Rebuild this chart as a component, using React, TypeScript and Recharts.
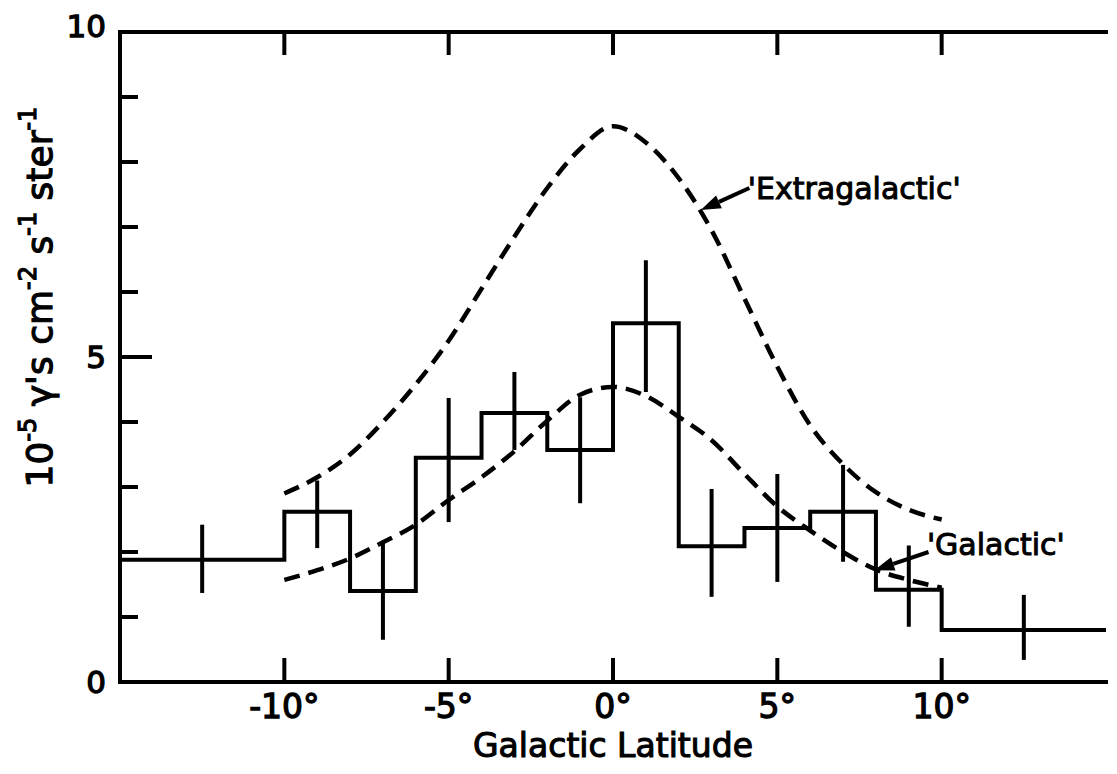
import { ComposedChart, Line, Scatter, ErrorBar, XAxis, YAxis, ReferenceLine, ReferenceDot } from 'recharts';

// histogram bins (galactic latitude, degrees) and measured flux
const binEdges = [-15, -10, -8, -6, -4, -2, 0, 2, 4, 6, 8, 10, 15];
const binFlux = [1.88, 2.62, 1.4, 3.45, 4.14, 3.57, 5.52, 2.09, 2.37, 2.62, 1.42, 0.8];
const binCentres = [-12.5, -9, -7, -5, -3, -1, 1, 3, 5, 7, 9, 12.5];
const fluxErrLow = [0.51, 0.56, 0.75, 0.99, 0.57, 0.82, 1.06, 0.78, 0.83, 0.77, 0.57, 0.46];
const fluxErrHigh = [0.54, 0.48, 0.75, 0.92, 0.63, 0.81, 0.97, 0.88, 0.83, 0.72, 0.68, 0.54];

// model curves
const curveLat = [-10, -9, -8, -7, -6, -5, -4, -3, -2, -1, 0, 1, 2, 3, 4, 5, 6, 7, 8, 9, 10];
const extragalactic = [2.9, 3.15, 3.5, 4.0, 4.58, 5.25, 6.05, 6.85, 7.6, 8.2, 8.55, 8.3, 7.75, 6.95, 5.9, 4.85, 3.95, 3.35, 2.92, 2.65, 2.5];
const galactic = [1.57, 1.72, 1.9, 2.15, 2.42, 2.8, 3.15, 3.55, 4.02, 4.42, 4.54, 4.4, 4.08, 3.72, 3.2, 2.7, 2.33, 2.0, 1.73, 1.57, 1.45];

const xTicks = [-10, -5, 0, 5, 10];
const xTickLabels = ['-10°', '-5°', '0°', '5°', '10°'];
const yTicks = [0, 1, 2, 3, 4, 5, 6, 7, 8, 9, 10];
const yTickLabels = ['0', '', '', '', '', '5', '', '', '', '', '10'];

const histData = binEdges.map((x, i) => ({ x, y: binFlux[Math.min(i, binFlux.length - 1)] }));
const errData = binCentres.map((x, i) => ({ x, y: binFlux[i], err: [fluxErrLow[i], fluxErrHigh[i]] }));
const extraData = curveLat.map((x, i) => ({ x, y: extragalactic[i] }));
const galData = curveLat.map((x, i) => ({ x, y: galactic[i] }));

const INK = '#000';
const FONT = "'DejaVu Sans', sans-serif";

const LeftTick = (props: any) => {
  const { x, y, payload } = props;
  const idx = yTicks.indexOf(payload.value);
  const len = payload.value % 5 === 0 ? 32 : 18;
  return (
    <g>
      <line x1={x} x2={x + len} y1={y} y2={y} stroke={INK} strokeWidth={4} />
      {yTickLabels[idx] && (
        <text x={x - 14} y={payload.value === 10 ? y - 6 : y} dy="0.36em" textAnchor="end" fontSize={31} fontFamily={FONT} stroke={INK} strokeWidth={1.3} fill={INK}>
          {yTickLabels[idx]}
        </text>
      )}
    </g>
  );
};

const RightTick = (props: any) => {
  const { x, y, payload } = props;
  const len = payload.value % 5 === 0 ? 30 : 16;
  return <line x1={x} x2={x - len} y1={y} y2={y} stroke={INK} strokeWidth={4} />;
};

const BottomTick = (props: any) => {
  const { x, y, payload } = props;
  const idx = xTicks.indexOf(payload.value);
  return (
    <g>
      <line x1={x} x2={x} y1={y} y2={y - 24} stroke={INK} strokeWidth={4} />
      <text x={x} y={y + 36} textAnchor="middle" fontSize={33} fontFamily={FONT} stroke={INK} strokeWidth={1.3} fill={INK}>
        {xTickLabels[idx]}
      </text>
    </g>
  );
};

const TopTick = (props: any) => {
  const { x, y } = props;
  return <line x1={x} x2={x} y1={y} y2={y + 23} stroke={INK} strokeWidth={4} />;
};

const XTitle = (props: any) => {
  const { viewBox } = props;
  return (
    <text x={viewBox.x + viewBox.width / 2} y={viewBox.y + 75} textAnchor="middle" fontSize={33} fontFamily={FONT} stroke={INK} strokeWidth={1.1} fill={INK}>
      Galactic Latitude
    </text>
  );
};

const YTitle = (props: any) => {
  const { viewBox } = props;
  const cx = viewBox.x + 44;
  const cy = viewBox.y + viewBox.height / 2 - 60;
  const sup = { fontSize: 24, dy: -16 };
  return (
    <text x={cx} y={cy} transform={`rotate(-90 ${cx} ${cy})`} textAnchor="middle" fontSize={36} fontFamily={FONT} stroke={INK} strokeWidth={1.2} fill={INK}>
      <tspan>10</tspan>
      <tspan fontSize={sup.fontSize} dy={sup.dy}>-5</tspan>
      <tspan dy={16}> γ's cm</tspan>
      <tspan fontSize={sup.fontSize} dy={sup.dy}>-2</tspan>
      <tspan dy={16}> s</tspan>
      <tspan fontSize={sup.fontSize} dy={sup.dy}>-1</tspan>
      <tspan dy={16}> ster</tspan>
      <tspan fontSize={sup.fontSize} dy={sup.dy}>-1</tspan>
    </text>
  );
};

const Arrow = (props: any) => {
  const { x1, y1, x2, y2 } = props;
  const a = Math.atan2(y2 - y1, x2 - x1);
  const L = 20;
  const W = 7;
  const bx = x2 - L * Math.cos(a);
  const by = y2 - L * Math.sin(a);
  const px = -Math.sin(a) * W;
  const py = Math.cos(a) * W;
  return (
    <g>
      <line x1={x1} y1={y1} x2={bx} y2={by} stroke={INK} strokeWidth={4} />
      <polygon points={`${x2},${y2} ${bx + px},${by + py} ${bx - px},${by - py}`} fill={INK} />
    </g>
  );
};

const note = (text: string) => (props: any) => (
  <text x={props.cx} y={props.cy} fontSize={30} fontFamily={FONT} stroke={INK} strokeWidth={1} fill={INK}>
    {text}
  </text>
);

const axisLine = { stroke: INK, strokeWidth: 4, strokeLinecap: 'square' as const };

export default function App() {
  return (
    <div style={{ fontFamily: FONT }}>
      <ComposedChart width={1100} height={760} margin={{ top: 23, right: 2, bottom: 0, left: 0 }}>
        <XAxis
          xAxisId="b"
          type="number"
          dataKey="x"
          domain={[-15, 15]}
          ticks={xTicks}
          tickSize={0}
          tickMargin={0}
          tickLine={false}
          axisLine={axisLine}
          tick={<BottomTick />}
          height={86}
          allowDataOverflow
          label={<XTitle />}
        />
        <XAxis
          xAxisId="t"
          orientation="top"
          type="number"
          dataKey="x"
          domain={[-15, 15]}
          ticks={xTicks}
          tickSize={0}
          tickMargin={0}
          tickLine={false}
          axisLine={axisLine}
          tick={<TopTick />}
          height={1}
          allowDataOverflow
        />
        <YAxis
          yAxisId="l"
          type="number"
          domain={[0, 10]}
          ticks={yTicks}
          tickSize={0}
          tickMargin={0}
          tickLine={false}
          axisLine={axisLine}
          tick={<LeftTick />}
          width={112}
          allowDataOverflow
          label={<YTitle />}
        />
        <YAxis
          yAxisId="r"
          orientation="right"
          type="number"
          domain={[0, 10]}
          ticks={yTicks}
          tickSize={0}
          tickMargin={0}
          tickLine={false}
          axisLine={axisLine}
          tick={<RightTick />}
          width={0}
          allowDataOverflow
        />
        <Line xAxisId="b" yAxisId="l" data={histData} dataKey="y" type="stepAfter" stroke={INK} strokeWidth={4} dot={false} isAnimationActive={false} />
        <Line xAxisId="b" yAxisId="l" data={extraData} dataKey="y" type="monotone" stroke={INK} strokeWidth={4.5} strokeDasharray="16 9" dot={false} isAnimationActive={false} />
        <Line xAxisId="b" yAxisId="l" data={galData} dataKey="y" type="monotone" stroke={INK} strokeWidth={4.5} strokeDasharray="16 9" dot={false} isAnimationActive={false} />
        <Scatter xAxisId="b" yAxisId="l" data={errData} dataKey="y" shape={() => <g />} isAnimationActive={false}>
          <ErrorBar dataKey="err" direction="y" width={0} stroke={INK} strokeWidth={4} isAnimationActive={false} />
        </Scatter>
        <ReferenceLine xAxisId="b" yAxisId="l" segment={[{ x: 4.15, y: 7.6 }, { x: 2.67, y: 7.26 }]} shape={<Arrow />} />
        <ReferenceLine xAxisId="b" yAxisId="l" segment={[{ x: 9.6, y: 2.0 }, { x: 7.95, y: 1.72 }]} shape={<Arrow />} />
        <ReferenceDot xAxisId="b" yAxisId="l" x={4.1} y={7.43} r={0} shape={note("'Extragalactic'")} />
        <ReferenceDot xAxisId="b" yAxisId="l" x={9.55} y={1.95} r={0} shape={note("'Galactic'")} />
      </ComposedChart>
    </div>
  );
}
